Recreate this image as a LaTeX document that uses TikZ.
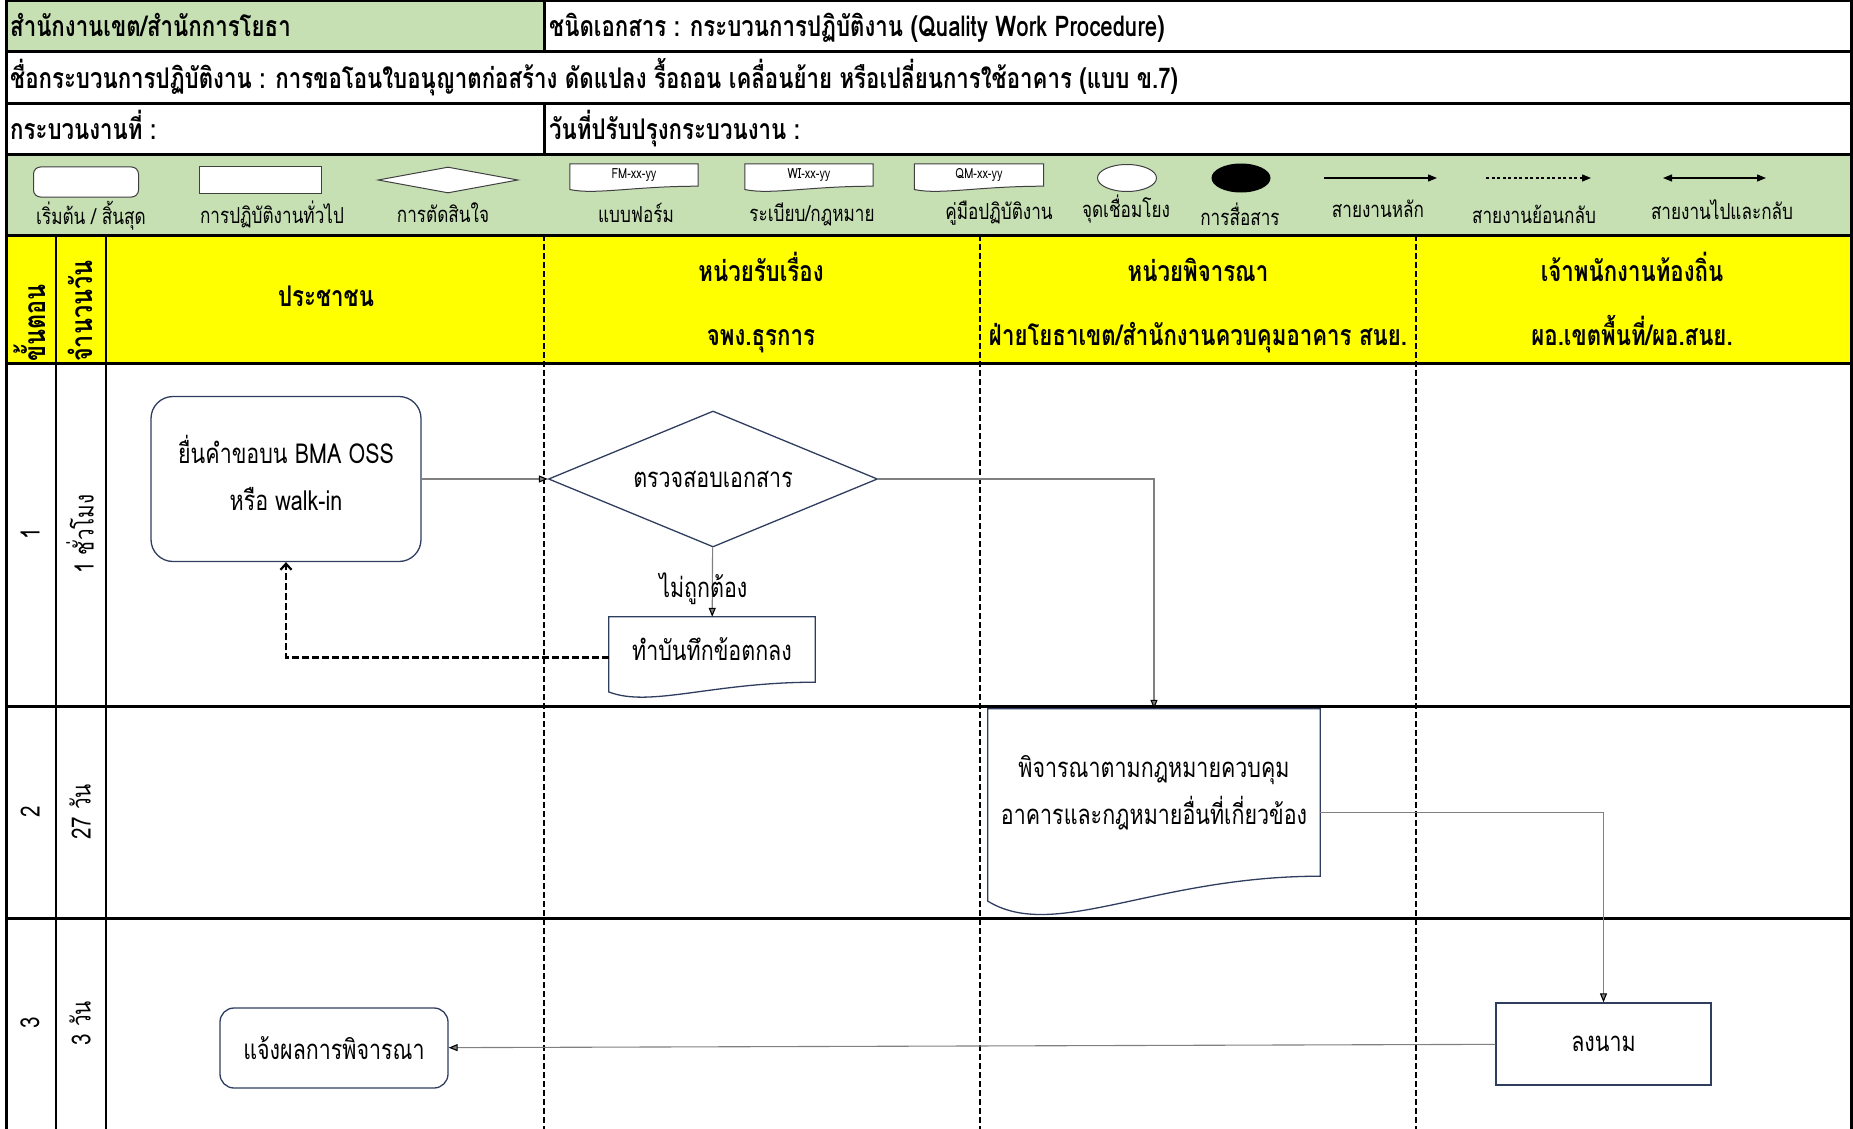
\documentclass[tikz,border=0pt]{standalone}
\usepackage{fontspec}
\setmainfont[Script=Thai,FakeStretch=0.78]{Loma}
\usetikzlibrary{shapes.geometric,arrows.meta,calc,backgrounds}
\definecolor{hdrgreen}{RGB}{198,224,180}
\definecolor{lanegold}{RGB}{255,255,0}
\definecolor{shapeblue}{RGB}{47,62,95}
\definecolor{linegray}{RGB}{128,128,128}
\newcommand{\nodefont}{\fontsize{27.5}{47}\selectfont}
\newcommand{\hdrfont}{\fontsize{28.5}{32}\selectfont\bfseries}
\newcommand{\lanefont}{\fontsize{28.5}{32}\selectfont\bfseries}
\newcommand{\sidefont}{\fontsize{30}{34}\selectfont\bfseries}
\newcommand{\legfont}{\fontsize{22}{26}\selectfont}
\newcommand{\tinyfont}{\fontsize{14}{16}\selectfont}
\newcommand{\rowfont}{\fontsize{26.5}{30}\selectfont}
\newcommand{\docoutline}[2][]{%
	\path[#1] let \p1=(#2.north west), \p2=(#2.south east), \n1={\y1-\y2}, \n2={\x2-\x1} in
		(\x1,\y2-0.149*\n1) -- (\x1,\y1) -- (\x2,\y1) -- (\x2,\y2)
		.. controls (\x1+0.5*\n2,\y2) and (\x1+0.2*\n2,\y2-0.393*\n1) .. (\x1,\y2-0.149*\n1) -- cycle;}

\begin{document}
\begin{tikzpicture}[x=1pt, y=-1pt,
		rule/.style={line width=3pt},
		colrule/.style={line width=2pt},
		lanerule/.style={line width=1.6pt, dash pattern=on 6pt off 3pt},
		hdr/.style={anchor=base west, font=\hdrfont, inner sep=0pt},
		lane/.style={anchor=base, font=\lanefont, inner sep=0pt},
		leg/.style={font=\legfont, inner sep=0pt},
		legshape/.style={draw=black!75, line width=1pt, fill=white},
		rowlbl/.style={font=\rowfont, rotate=90, inner sep=0pt},
		box/.style={draw=shapeblue, line width=1.3pt, fill=white, align=center, font=\nodefont},
		startend/.style={box, rounded corners=22pt},
		task/.style={box, rectangle},
		decision/.style={box, diamond, aspect=2.4, inner sep=0pt},
		docnode/.style={align=center, inner sep=0pt, font=\nodefont},
		flowlbl/.style={font=\nodefont, text=black},
		flow/.style={color=linegray, line width=1.1pt, -{Triangle[color=black,length=9pt,width=7pt]}},
		back/.style={color=black, line width=2.2pt, dash pattern=on 7pt off 3pt, -{Straight Barb[length=6pt,width=11pt]}},
		elbow/.style={to path={-| (\tikztotarget)}},
		lgarrow/.style={line width=1.2pt, -{Triangle[length=9pt,width=7pt]}}]
	\useasboundingbox (0,0) rectangle (1853,1129);
	\begin{scope}[on background layer]
		\fill[hdrgreen] (6,1) rectangle (544,52);
		\fill[hdrgreen] (6,155) rectangle (1851,235);
		\fill[lanegold] (6,235) rectangle (1851,363);
		\foreach \y in {1,52,104,155,235,363,706,918}
			\draw[rule] (6,\y) -- (1851,\y);
		\draw[rule] (6,0) -- (6,1129) (1851,0) -- (1851,1129) (544,1) -- (544,52) (544,104) -- (544,155);
		\draw[colrule] (56,235) -- (56,1129) (106,235) -- (106,1129);
		\foreach \x in {544,980,1416}
			\draw[lanerule] (\x,235) -- (\x,1129);
	\end{scope}

	\node[hdr] (office) at (10,37) {สำนักงานเขต/สำนักการโยธา};
	\node[hdr] (doctype) at (549,37) {ชนิดเอกสาร : กระบวนการปฏิบัติงาน (Quality Work Procedure)};
	\node[hdr] (procname) at (10,89) {ชื่อกระบวนการปฏิบัติงาน : การขอโอนใบอนุญาตก่อสร้าง ดัดแปลง รื้อถอน เคลื่อนย้าย หรือเปลี่ยนการใช้อาคาร (แบบ ข.7)};
	\node[hdr] (procno) at (10,140) {กระบวนงานที่ :};
	\node[hdr] (revdate) at (549,140) {วันที่ปรับปรุงกระบวนงาน :};

	\node[legshape, rounded corners=7pt, minimum width=105pt, minimum height=30pt] (lgstart) at (86,182) {};
	\node[leg] (lgstartlbl) at (91,216) {เริ่มต้น / สิ้นสุด};
	\node[legshape, minimum width=122pt, minimum height=26pt] (lgtask) at (260,180) {};
	\node[leg] (lgtasklbl) at (272,214) {การปฏิบัติงานทั่วไป};
	\node[legshape, diamond, aspect=5.4, inner sep=0pt, minimum width=140pt, minimum height=26pt] (lgdec) at (448,180) {};
	\node[leg] (lgdeclbl) at (443,213) {การตัดสินใจ};
	\node[inner sep=0pt, minimum width=128pt, minimum height=22pt, font=\tinyfont] (lgfm) at (634,175) {FM-xx-yy};
	\node[leg] (lgfmlbl) at (636,213) {แบบฟอร์ม};
	\node[inner sep=0pt, minimum width=128pt, minimum height=22pt, font=\tinyfont] (lgwi) at (809,175) {WI-xx-yy};
	\node[leg] (lgwilbl) at (812,214) {ระเบียบ/กฎหมาย};
	\node[inner sep=0pt, minimum width=129pt, minimum height=22pt, font=\tinyfont] (lgqm) at (979,175) {QM-xx-yy};
	\node[leg] (lgqmlbl) at (999,213) {คู่มือปฏิบัติงาน};
	\node[legshape, ellipse, minimum width=59pt, minimum height=27pt] (lglink) at (1127,178) {};
	\node[leg] (lglinklbl) at (1126,209) {จุดเชื่อมโยง};
	\node[ellipse, fill=black, minimum width=59pt, minimum height=29pt] (lgcomm) at (1241,178) {};
	\node[leg] (lgcommlbl) at (1240,214) {การสื่อสาร};
	\coordinate (lgmain1) at (1324,178);
	\coordinate (lgmain2) at (1437,178);
	\node[leg] (lgmainlbl) at (1378,209) {สายงานหลัก};
	\coordinate (lgback1) at (1486,178);
	\coordinate (lgback2) at (1591,178);
	\node[leg] (lgbacklbl) at (1534,214) {สายงานย้อนกลับ};
	\coordinate (lgboth1) at (1663,178);
	\coordinate (lgboth2) at (1766,178);
	\node[leg] (lgbothlbl) at (1722,210) {สายงานไปและกลับ};
	\draw[lgarrow] (lgmain1) -- (lgmain2);
	\draw[lgarrow, dash pattern=on 3pt off 2.5pt] (lgback1) -- (lgback2);
	\draw[lgarrow, {Triangle[length=9pt,width=7pt]}-{Triangle[length=9pt,width=7pt]}] (lgboth1) -- (lgboth2);

	\node[font=\sidefont, inner sep=0pt, rotate=90, anchor=west] (stephdr) at (30,362) {ขั้นตอน};
	\node[font=\sidefont, inner sep=0pt, rotate=90, anchor=west] (dayshdr) at (80,362) {จำนวนวัน};
	\node[lane] (citizen) at (326,306) {ประชาชน};
	\node[lane] (recv) at (761,281) {หน่วยรับเรื่อง};
	\node[lane] (recvsub) at (761,345) {จพง.ธุรการ};
	\node[lane] (cons) at (1198,281) {หน่วยพิจารณา};
	\node[lane] (conssub) at (1198,345) {ฝ่ายโยธาเขต/สำนักงานควบคุมอาคาร สนย.};
	\node[lane] (local) at (1632,281) {เจ้าพนักงานท้องถิ่น};
	\node[lane] (localsub) at (1632,345) {ผอ.เขตพื้นที่/ผอ.สนย.};

	\node[rowlbl] (step1) at (30,534) {1};
	\node[rowlbl] (time1) at (80,534) {1 ชั่วโมง};
	\node[rowlbl] (step2) at (30,812) {2};
	\node[rowlbl] (time2) at (80,812) {27 วัน};
	\node[rowlbl] (step3) at (30,1023) {3};
	\node[rowlbl] (time3) at (80,1023) {3 วัน};

	\node[startend, minimum width=270pt, minimum height=165pt, text depth=13pt] (submit) at (286,479) {ยื่นคำขอบน BMA OSS\\หรือ walk-in};
	\node[decision, minimum width=329pt, minimum height=136pt] (check) at (713,479) {ตรวจสอบเอกสาร};
	\node[docnode, minimum width=206pt, minimum height=65pt] (memo) at (712,649.5) {ทำบันทึกข้อตกลง};
	\node[docnode, minimum width=332pt, minimum height=167pt] (review) at (1154,792.5) {พิจารณาตามกฎหมายควบคุม\\อาคารและกฎหมายอื่นที่เกี่ยวข้อง};
	\node[task, minimum width=215pt, minimum height=82pt] (sign) at (1603.5,1044) {ลงนาม};
	\node[startend, rounded corners=14pt, minimum width=228pt, minimum height=80pt] (notify) at (334,1048) {แจ้งผลการพิจารณา};

	\begin{scope}[on background layer]
		\docoutline[draw=black!75, line width=1pt, fill=white]{lgfm}
		\docoutline[draw=black!75, line width=1pt, fill=white]{lgwi}
		\docoutline[draw=black!75, line width=1pt, fill=white]{lgqm}
		\docoutline[draw=shapeblue, line width=1.3pt, fill=white]{memo}
		\docoutline[draw=shapeblue, line width=1.3pt, fill=white]{review}
	\end{scope}

	\path[flow]
	(submit) edge (check)
	(check) edge [elbow] node [flowlbl, pos=0.117, above=3pt] {ถูกต้อง} (review)
			edge node [flowlbl, pos=0.6, xshift=-9pt] {ไม่ถูกต้อง} (memo)
	([yshift=-20pt]review.east) edge [elbow] (sign)
	(sign) edge (notify);
	\path[back]
	([yshift=-8pt]memo.west) edge [elbow] (submit);
\end{tikzpicture}
\end{document}
